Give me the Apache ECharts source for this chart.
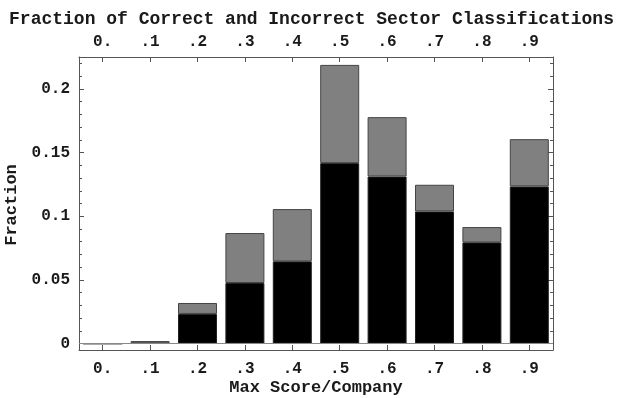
<!DOCTYPE html>
<html>
<head>
<meta charset="utf-8">
<script src="https://cdn.jsdelivr.net/npm/echarts@6/dist/echarts.min.js"></script>
<style>
html,body{margin:0;padding:0;background:#fff;}
#c{width:623px;height:398px;}
</style>
</head>
<body>
<div id="c"></div>
<script>
var categories = ['0.', '.1', '.2', '.3', '.4', '.5', '.6', '.7', '.8', '.9'];
var correct = [0, 0.0003, 0.0233, 0.0476, 0.0646, 0.1417, 0.1312, 0.1038, 0.0795, 0.1234];
var incorrect = [0, 0.0017, 0.0086, 0.0392, 0.0410, 0.0771, 0.0466, 0.0209, 0.0120, 0.0371];
var yMajorTicks = [0, 0.05, 0.1, 0.15, 0.2];
var yMinorTicks = [0.01, 0.02, 0.03, 0.04, 0.06, 0.07, 0.08, 0.09, 0.11, 0.12, 0.13, 0.14, 0.16, 0.17, 0.18, 0.19, 0.21, 0.22];
var titleText = 'Fraction of Correct and Incorrect Sector Classifications';
var xName = 'Max Score/Company';
var yName = 'Fraction';

var FONT = '"Liberation Mono", "Courier New", monospace';
var TXT = '#1a1a1a';
var FRAME = '#555';

function yAxisDef(pos, ticks, len, showLine, showLabels) {
  return {
    type: 'value', position: pos, min: -0.005, max: 0.225,
    axisLine: {show: showLine, lineStyle: {color: FRAME, width: 1}},
    splitLine: {show: false},
    axisTick: {show: true, inside: true, length: len, customValues: ticks, lineStyle: {color: FRAME}},
    axisLabel: showLabels ? {
      show: true, customValues: ticks, margin: 9,
      fontFamily: FONT, fontSize: 16, fontWeight: 'bold', color: TXT,
      formatter: function (v) { return v === 0 ? '0' : String(+v.toFixed(3)); }
    } : {show: false}
  };
}

var chart = echarts.init(document.getElementById('c'), null, {renderer: 'canvas'});
chart.setOption({
  backgroundColor: '#fff',
  animation: false,
  title: {
    text: titleText, left: 'center', top: 5,
    textStyle: {fontFamily: FONT, fontSize: 18, fontWeight: 'bold', color: TXT}
  },
  grid: {left: 79, right: 70, top: 57, bottom: 48},
  xAxis: [
    {
      type: 'category', position: 'bottom', data: categories,
      axisLine: {show: true, onZero: false, lineStyle: {color: FRAME}},
      axisTick: {show: true, inside: true, alignWithLabel: true, length: 5, lineStyle: {color: FRAME}},
      axisLabel: {margin: 11, fontFamily: FONT, fontSize: 16, fontWeight: 'bold', color: TXT},
      splitLine: {show: false}
    },
    {
      type: 'category', position: 'top', data: categories,
      axisLine: {show: true, onZero: false, lineStyle: {color: FRAME}},
      axisTick: {show: true, inside: true, alignWithLabel: true, length: 5, lineStyle: {color: FRAME}},
      axisLabel: {margin: 7, fontFamily: FONT, fontSize: 16, fontWeight: 'bold', color: TXT},
      splitLine: {show: false}
    }
  ],
  yAxis: [
    yAxisDef('left', yMajorTicks, 5, true, true),
    yAxisDef('left', yMinorTicks, 3, false, false),
    yAxisDef('right', yMajorTicks, 5, true, false),
    yAxisDef('right', yMinorTicks, 3, false, false)
  ],
  graphic: [
    {type: 'text', x: 316, y: 388, style: {text: xName, font: 'bold 17px ' + FONT, fill: TXT, textAlign: 'center', textVerticalAlign: 'middle'}},
    {type: 'text', x: 12, y: 205, rotation: Math.PI / 2, style: {text: yName, font: 'bold 17px ' + FONT, fill: TXT, textAlign: 'center', textVerticalAlign: 'middle'}}
  ],
  series: [
    {
      type: 'bar', name: 'Correct', stack: 's', data: correct, barWidth: 39,
      itemStyle: {color: '#000', borderColor: '#222', borderWidth: 1},
      markLine: {
        silent: true, symbol: 'none', label: {show: false},
        lineStyle: {color: '#888', width: 1, type: 'solid'},
        data: [{yAxis: 0}]
      }
    },
    {
      type: 'bar', name: 'Incorrect', stack: 's', data: incorrect, barWidth: 39,
      itemStyle: {color: '#808080', borderColor: '#444', borderWidth: 1}
    }
  ]
});
</script>
</body>
</html>
